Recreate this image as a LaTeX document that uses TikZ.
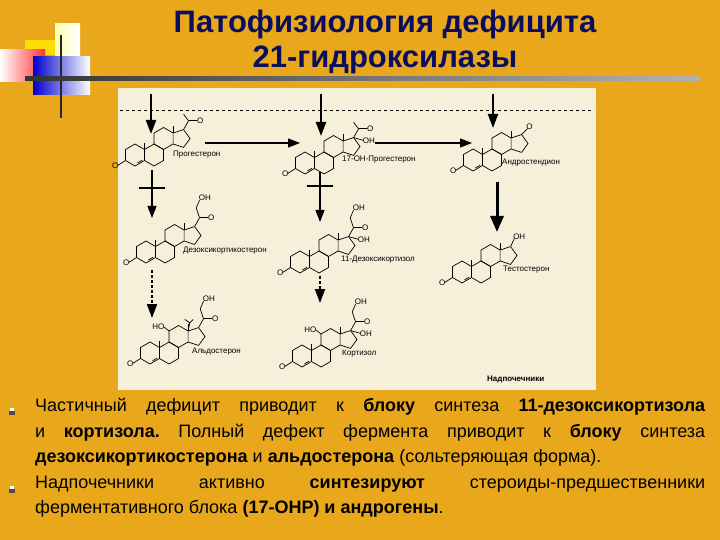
\documentclass[tikz,border=0pt]{standalone}
\usepackage{fontspec}
\setmainfont{Liberation Sans}
\usetikzlibrary{arrows.meta,calc}
\definecolor{bg}{HTML}{E9A81C}
\definecolor{paper}{HTML}{F6EFDA}
\definecolor{navy}{HTML}{0B0E5E}
\def\r{11}
\frenchspacing
\tikzset{
  ring/.style={line width=0.7pt},
  lbl/.style={font=\fontsize{8}{9}\selectfont, inner sep=0pt, anchor=west},
  atom/.style={font=\fontsize{8}{9}\selectfont, inner sep=0.5pt},
  bigarrow/.style={line width=2.2pt, -{Triangle[length=14pt,width=10pt]}},
  thinarrow/.style={line width=1.3pt, -{Triangle[length=12pt,width=9pt]}},
  bar/.style={line width=1.6pt},
  pics/steroid/.style={code={
    \draw[ring] (30:\r)--(90:\r)--(150:\r)--(210:\r)--(270:\r)--(330:\r)--cycle;
    \begin{scope}[shift={(1.732*\r,0)}]
      \draw[ring] (30:\r)--(90:\r)--(150:\r)--(210:\r)--(270:\r)--(330:\r)--cycle;
    \end{scope}
    \begin{scope}[shift={(2.598*\r,1.5*\r)}]
      \draw[ring] (30:\r)--(90:\r)--(150:\r)--(210:\r)--(270:\r)--(330:\r)--cycle;
      \draw[ring] (30:\r)--++(0.951*\r,0.309*\r)--(0.866*\r+1.539*\r,0)--($(330:\r)+(0.951*\r,-0.309*\r)$)--(330:\r);
    \end{scope}
    \coordinate (-c13) at (3.464*\r,2*\r);
    \coordinate (-c17) at (4.415*\r,2.309*\r);
    \coordinate (-c11) at (1.732*\r,2*\r);
    \draw[ring] (-c13)--++(0,0.6*\r);
    \draw[ring] (0.866*\r,0.5*\r)--++(0,0.6*\r);
    \draw[ring] (210:\r)--++(-0.7*\r,-0.45*\r) node[left=-1.5pt, atom]{O};
    \draw[ring] ($(270:\r)!0.25!(330:\r)+(0,0.15*\r)$)--($(330:\r)!0.25!(270:\r)+(0,0.15*\r)$);
  }}
}
\begin{document}
\begin{tikzpicture}[x=1pt,y=1pt]
\fill[bg] (0,0) rectangle (720,-540);
\useasboundingbox (0,0) rectangle (720,-540);
% logo
\shade[left color=yellow!30!white, right color=white] (55,-24) rectangle (80,-80);
\fill[yellow!80!orange] (25,-40) rectangle (55,-55);
\shade[left color=white, right color=red!80] (0,-50) rectangle (45,-82);
\shade[left color=blue!80!black, right color=white] (33,-57) rectangle (90,-95);
\draw[line width=2pt, black!85] (61,-35)--(61,-118);
\shade[left color=black!80, right color=black!30] (25,-77) rectangle (700,-81);
% title
\node[font=\fontsize{31}{35}\selectfont\bfseries, text=navy, align=center] (title) at (385,-42) {Патофизиология дефицита\\21-гидроксилазы};
% image
\fill[paper] (118,-88) rectangle (596,-390);
\draw[dashed, line width=0.4pt] (120,-110)--(594,-110);
% structures
\pic (s1) at (135,-155) {steroid};
\pic (s2) at (305,-163) {steroid};
\pic (s3) at (473,-160) {steroid};
\pic (s4) at (146,-252) {steroid};
\pic (s5) at (300,-262) {steroid};
\pic (s6) at (462,-272) {steroid};
\pic (s7) at (150,-353) {steroid};
\pic (s8) at (302,-356) {steroid};
% side chains
\foreach \s in {s1,s2,s4,s5,s7,s8}{
  \draw[ring] (\s-c17)--++(0.45*\r,0.8*\r) coordinate (\s-c20);
  \draw[ring] (\s-c20)--++(0.8*\r,0) node[right=-1pt, atom]{O};
}
\draw[ring] (s1-c20)--++(-0.45*\r,0.6*\r);
\draw[ring] (s2-c20)--++(-0.45*\r,0.6*\r);
\foreach \s in {s4,s5,s7,s8}{
  \draw[ring] (\s-c20)--++(-0.3*\r,0.9*\r)--++(0.3*\r,0.7*\r) node[above right=-1.5pt, atom]{OH};
}
\foreach \s in {s2,s5,s8}{
  \draw[ring] (\s-c17)--++(0.9*\r,-0.25*\r) node[right=-1.5pt, atom]{OH};
}
\draw[ring] (s3-c17)--++(0.55*\r,0.55*\r) node[above right=-2pt, atom]{O};
\draw[ring] (s6-c17)--++(0.35*\r,0.75*\r) node[above right=-2pt, atom]{OH};
\foreach \s in {s7,s8}{
  \draw[ring] (\s-c11)--++(-0.45*\r,0.35*\r) node[left=-1pt, atom]{HO};
}
\draw[ring] (s7-c13)--++(0.15*\r,0.75*\r)--++(-0.45*\r,0.3*\r);
\draw[ring] (s7-c13)++(0.15*\r,0.75*\r)--++(0.3*\r,0.3*\r);
% names
\node[lbl] (n1) at (173,-155) {Прогестерон};
\node[lbl] (n2) at (342,-160) {17-OH-Прогестерон};
\node[lbl] (n3) at (502,-163) {Андростендион};
\node[lbl] (n4) at (183,-251) {Дезоксикортикостерон};
\node[lbl] (n5) at (341,-260) {11-Дезоксикортизол};
\node[lbl] (n6) at (503,-270) {Тестостерон};
\node[lbl] (n7) at (192,-352) {Альдостерон};
\node[lbl] (n8) at (342,-354) {Кортизол};
\node[lbl, font=\fontsize{8}{9}\selectfont\bfseries] (n9) at (487,-380) {Надпочечники};
% arrows
\coordinate (a1) at (151,-94); \coordinate (a1e) at (151,-134);
\coordinate (a2) at (321,-94); \coordinate (a2e) at (321,-136);
\coordinate (a3) at (493,-94); \coordinate (a3e) at (493,-128);
\draw[bigarrow] (a1)--(a1e);
\draw[bigarrow] (a2)--(a2e);
\draw[bigarrow] (a3)--(a3e);
\coordinate (h1) at (205,-143); \coordinate (h1e) at (300,-143);
\coordinate (h2) at (375,-143); \coordinate (h2e) at (472,-143);
\draw[thinarrow] (h1)--(h1e);
\draw[thinarrow] (h2)--(h2e);
\coordinate (v1) at (152,-170); \coordinate (v1e) at (152,-218);
\coordinate (v2) at (320,-172); \coordinate (v2e) at (320,-222);
\draw[thinarrow] (v1)--(v1e);
\draw[thinarrow] (v2)--(v2e);
\draw[bar] (139,-188)--(165,-188);
\draw[bar] (307,-186)--(333,-186);
\coordinate (t1) at (497,-182); \coordinate (t1e) at (497,-232);
\draw[line width=3pt, -{Triangle[length=16pt,width=13pt]}] (t1)--(t1e);
\coordinate (d1) at (152,-270); \coordinate (d1e) at (152,-318);
\draw[line width=2pt, dash pattern=on 2.5pt off 2.5pt, -{Triangle[length=14pt,width=10pt]}] (d1)--(d1e);
\coordinate (d2) at (320,-276); \coordinate (d2e) at (320,-303);
\draw[line width=2pt, dash pattern=on 2.5pt off 2.5pt, -{Triangle[length=14pt,width=10pt]}] (d2)--(d2e);
% bullets
\node[anchor=north west, inner sep=0pt, text width=670pt, align=justify, font=\fontsize{18}{25.5}\selectfont] (txt) at (35,-398) {\frenchspacing Частичный дефицит приводит к \textbf{блоку} синтеза \textbf{11-дезоксикортизола} и \textbf{кортизола.} Полный дефект фермента приводит к \textbf{блоку} синтеза \textbf{дезоксикортикостерона} и \textbf{альдостерона} (сольтеряющая форма).\\ Надпочечники активно \textbf{синтезируют} стероиды-предшественники ферментативного блока \textbf{(17-ОНР) и андрогены}.};
\foreach \yy/\nm in {-411/b1,-489/b2}{
  \fill[black!70] (9,\yy) rectangle (15,\yy-4);
  \fill[white] (10,\yy+3) rectangle (14,\yy);
}
\end{tikzpicture}
\end{document}
